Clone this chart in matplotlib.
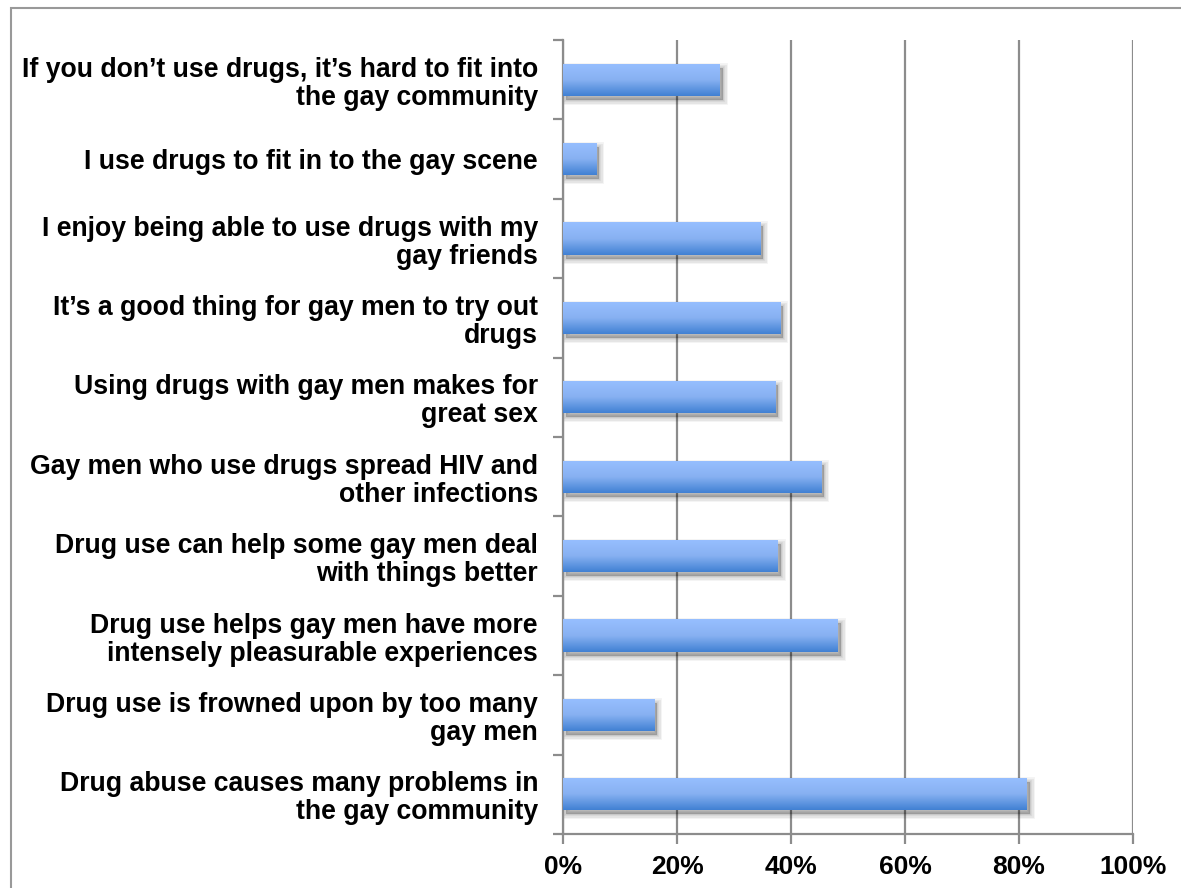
import numpy as np
import matplotlib.pyplot as plt
import matplotlib.patches as mpatches
from matplotlib.colors import LinearSegmentedColormap
import matplotlib.transforms as mtransforms

# ----------------------------
# DATA (top to bottom as shown)
# ----------------------------
labels = [
    "If you don\u2019t use drugs, it\u2019s hard to fit into\nthe gay community",
    "I use drugs to fit in to the gay scene",
    "I enjoy being able to use drugs with my\ngay friends",
    "It\u2019s a good thing for gay men to try out\ndrugs",
    "Using drugs with gay men makes for\ngreat sex",
    "Gay men who use drugs spread HIV and\nother infections",
    "Drug use can help some gay men deal\nwith things better",
    "Drug use helps gay men have more\nintensely pleasurable experiences",
    "Drug use is frowned upon by too many\ngay men",
    "Drug abuse causes many problems in\nthe gay community",
]
values = [27.5, 5.8, 34.6, 38.1, 37.2, 45.3, 37.7, 48.2, 16.0, 81.4]
xticks = [0, 20, 40, 60, 80, 100]
xtick_labels = ["0%", "20%", "40%", "60%", "80%", "100%"]

plt.rcParams['font.family'] = ['Liberation Sans', 'DejaVu Sans']

W, H = 1181, 888
fig = plt.figure(figsize=(W / 100, H / 100), dpi=100)
ax = fig.add_axes([563 / W, 1 - 834 / H, (1133 - 563) / W, (834 - 40) / H])

n = len(labels)
ypos = np.arange(n)
bar_h = 0.405
grey = "#8c8c8c"

# gradient fill for bars
cmap = LinearSegmentedColormap.from_list("bluegrad", ["#97bfff", "#88b1f2", "#4080d3"])
grad = np.linspace(0, 1, 256).reshape(-1, 1)

# soft drop shadow: stacked translucent bars, growing outward
for grow in [7, 5, 3, 1.5, 0]:
    off = mtransforms.offset_copy(ax.transData, fig=fig, x=3, y=-4, units='dots')
    pts_h = bar_h  # same data height, widen via linewidth
    ax.barh(ypos, values, height=bar_h, color="black", alpha=0.05,
            edgecolor="black", linewidth=grow, transform=off, zorder=2)

bars = ax.barh(ypos, values, height=bar_h, color="none", linewidth=0, zorder=3)
for b, v, y in zip(bars, values, ypos):
    im = ax.imshow(grad, cmap=cmap, aspect='auto',
                   extent=[0, v, y + bar_h / 2, y - bar_h / 2],
                   origin='upper', zorder=3, interpolation='bilinear')
    im.set_clip_path(b)

ax.set_xlim(0, 100)
ax.set_ylim(n - 0.5, -0.5)

# grid
ax.set_xticks(xticks)
ax.set_xticklabels(xtick_labels, fontsize=19, fontweight='bold')
ax.grid(axis='x', color=grey, linewidth=1.6)
ax.set_axisbelow(True)
ax.tick_params(axis='x', length=7, width=1.6, color=grey, pad=8)

ax.set_yticks(ypos)
ax.set_yticklabels(labels, fontsize=19.2, fontweight='bold', linespacing=1.1)
ax.tick_params(axis='y', length=0, pad=18)
ax.set_yticks(np.arange(n + 1) - 0.5, minor=True)
ax.tick_params(axis='y', which='minor', length=7, width=1.6, color=grey)
for t in ax.get_yticklabels():
    t.set_multialignment('right')

for s in ['top', 'right']:
    ax.spines[s].set_visible(False)
for s in ['left', 'bottom']:
    ax.spines[s].set_color(grey)
    ax.spines[s].set_linewidth(1.6)

# outer frame
fig.patches.append(mpatches.Rectangle((10.5 / W, -0.1), 2, (H - 8) / H + 0.1,
                                      transform=fig.transFigure, fill=False,
                                      edgecolor="#999999", linewidth=1.5))

fig.savefig("out.png", dpi=100)
